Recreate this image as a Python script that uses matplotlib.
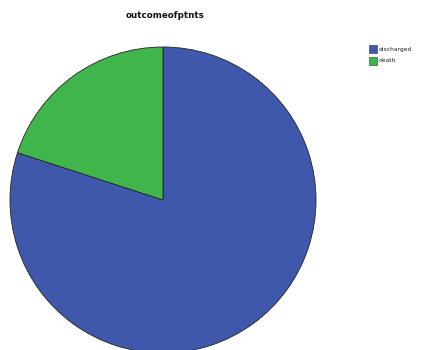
import matplotlib
matplotlib.use("Agg")
import matplotlib.pyplot as plt
from matplotlib.patches import Rectangle

# data
labels = ["discharged", "death"]
values = [80, 20]
colors = ["#3F58AB", "#3FB54B"]
title = "outcomeofptnts"

W, H = 421, 350
fig = plt.figure(figsize=(W / 100, H / 100), dpi=100)
ax = fig.add_axes([0, 0, 1, 1])

ax.pie(values, colors=colors, startangle=90, counterclock=False,
       center=(163, H - 200), radius=153, frame=True,
       wedgeprops=dict(edgecolor="#222222", linewidth=0.6))
ax.set_xlim(0, W)
ax.set_ylim(0, H)
ax.set_aspect("equal")
ax.axis("off")

ax.text(165, H - 16, title, ha="center", va="center",
        fontsize=6.3, fontweight="bold", color="#111111")

# legend
for i, (lab, col) in enumerate(zip(labels, colors)):
    y = H - 49 - i * 12
    ax.add_patch(Rectangle((369, y - 4), 8, 8, facecolor=col,
                           edgecolor="#333333", linewidth=0.4))
    ax.text(379, y, lab, ha="left", va="center", fontsize=4.3, color="#222222")

fig.savefig("out.png", dpi=100)
